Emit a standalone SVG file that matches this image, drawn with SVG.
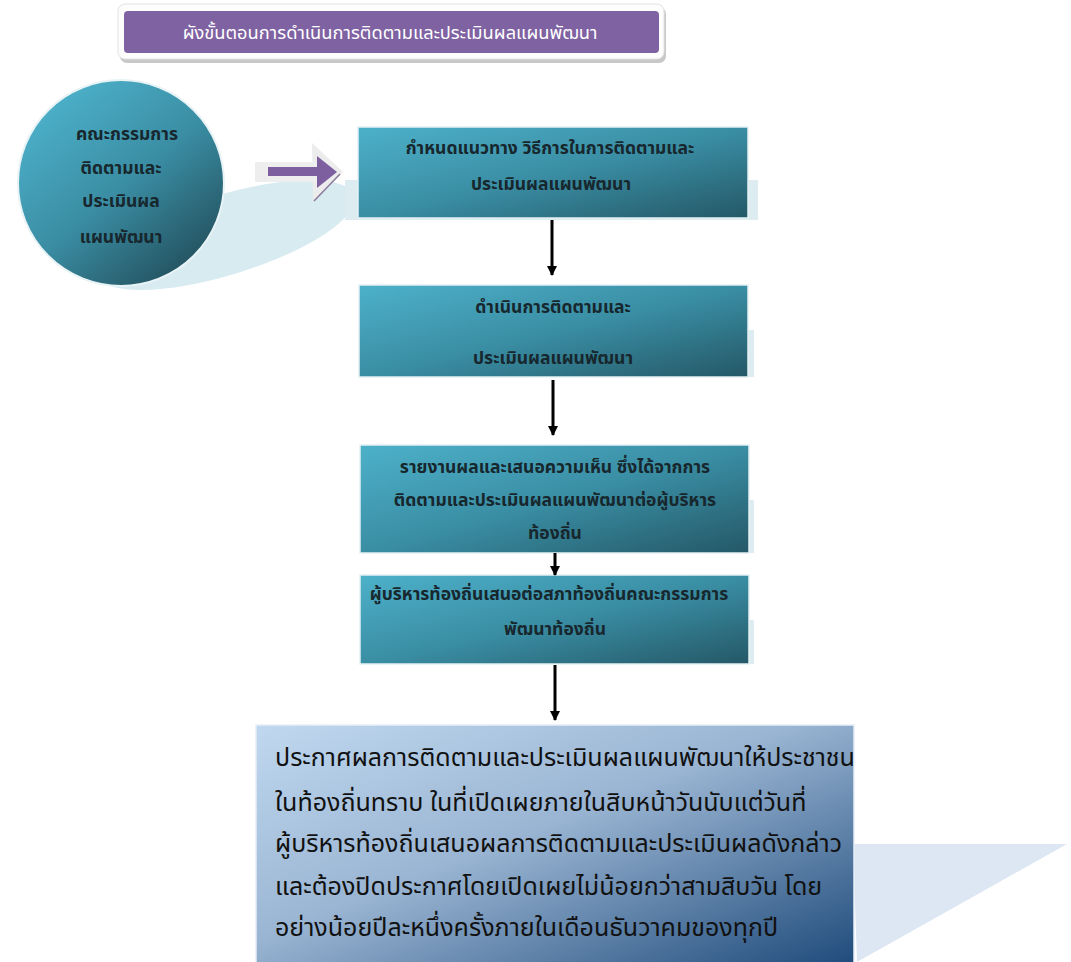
<svg xmlns="http://www.w3.org/2000/svg" width="1071" height="962" viewBox="0 0 1071 962">
<defs>
<linearGradient id="teal" x1="0" y1="0" x2="1" y2="1">
<stop offset="0" stop-color="#4db1ca"/>
<stop offset="0.5" stop-color="#3a8ea4"/>
<stop offset="1" stop-color="#245867"/>
</linearGradient>
<linearGradient id="tealc" x1="0.15" y1="0.1" x2="0.85" y2="0.95">
<stop offset="0" stop-color="#4cb0c9"/>
<stop offset="0.5" stop-color="#3a8da3"/>
<stop offset="1" stop-color="#224e5b"/>
</linearGradient>
<linearGradient id="blue" x1="0" y1="0" x2="1" y2="1">
<stop offset="0" stop-color="#c0d8ef"/>
<stop offset="0.45" stop-color="#9ab5d3"/>
<stop offset="1" stop-color="#1f4b7b"/>
</linearGradient>
<marker id="ah" viewBox="0 0 10 10" refX="9" refY="5" markerWidth="10" markerHeight="12" markerUnits="userSpaceOnUse" orient="auto">
<path d="M0,0 L10,5 L0,10 z" fill="#000"/>
</marker>
<style>
.box{fill:url(#teal);stroke:#e4f0f3;stroke-width:1.5}
.bt{font-family:"Noto Sans Thai","Tahoma","DejaVu Sans","Noto Sans",sans-serif;font-size:17.5px;font-weight:bold;fill:#17272d;text-anchor:middle}
.bb{font-family:"Noto Sans Thai","Tahoma","DejaVu Sans","Noto Sans",sans-serif;font-size:25px;fill:#111}
.sh{fill:#dcecf1}
.conn{stroke:#000;stroke-width:3;fill:none}
</style>
</defs>
<rect width="1071" height="962" fill="#fff"/>

<g id="title">
<rect x="120" y="7" width="546" height="56" rx="7" fill="#c8c8c8"/>
<rect x="118" y="4" width="546" height="55" rx="7" fill="#fdfdfd" stroke="#e2e2e2" stroke-width="1"/>
<rect x="124" y="11" width="535" height="42" rx="4" fill="#7f62a2"/>
<text x="390" y="39" font-family="Tahoma,&quot;Noto Sans Thai&quot;,&quot;DejaVu Sans&quot;,sans-serif" font-size="18.3" fill="#fff" text-anchor="middle">ผังขั้นตอนการดำเนินการติดตามและประเมินผลแผนพัฒนา</text>
</g>

<g id="decor">
<ellipse cx="225" cy="235" rx="135" ry="40" transform="rotate(-17 225 235)" fill="#d7ebf1"/>
<rect x="345" y="180" width="413" height="40" class="sh"/>
<rect x="748" y="330" width="6" height="47" class="sh"/>
<rect x="748" y="500" width="6" height="53" class="sh"/>
<rect x="748" y="620" width="6" height="44" class="sh"/>
<polygon points="853,844 1067,844 857,962" fill="#dce7f3"/>
</g>

<g id="committee">
<circle cx="121" cy="183" r="103" fill="url(#tealc)" stroke="#e8f3f6" stroke-width="2"/>
<text class="bt" x="127" y="140" font-size="18.5">คณะกรรมการ</text>
<text class="bt" x="121" y="174">ติดตามและ</text>
<text class="bt" x="121" y="207">ประเมินผล</text>
<text class="bt" x="121" y="243">แผนพัฒนา</text>
</g>

<g id="arrow-big">
<polygon points="312,143 343,172 313,202" fill="#ececec"/>
<rect x="255" y="162" width="62" height="20" fill="#eeeeee"/>
<rect x="268" y="167" width="52" height="9" fill="#7d5fa0"/>
<polygon points="317,156 337,172 317,188" fill="#7d5fa0"/>
<line x1="340" y1="174" x2="314" y2="201" stroke="#8a7a9a" stroke-width="1.5"/>
</g>

<g id="step1">
<rect class="box" x="358" y="127" width="390" height="91"/>
<text class="bt" x="550" y="154">กำหนดแนวทาง วิธีการในการติดตามและ</text>
<text class="bt" x="551" y="190">ประเมินผลแผนพัฒนา</text>
</g>

<g id="step2">
<rect class="box" x="359" y="285" width="389" height="92"/>
<text class="bt" x="553" y="313">ดำเนินการติดตามและ</text>
<text class="bt" x="553" y="364">ประเมินผลแผนพัฒนา</text>
</g>

<g id="step3">
<rect class="box" x="360" y="445" width="389" height="108"/>
<text class="bt" x="555" y="473">รายงานผลและเสนอความเห็น ซึ่งได้จากการ</text>
<text class="bt" x="555" y="506">ติดตามและประเมินผลแผนพัฒนาต่อผู้บริหาร</text>
<text class="bt" x="555" y="539">ท้องถิ่น</text>
</g>

<g id="step4">
<rect class="box" x="360" y="575" width="389" height="89"/>
<text class="bt" x="549" y="600">ผู้บริหารท้องถิ่นเสนอต่อสภาท้องถิ่นคณะกรรมการ</text>
<text class="bt" x="555" y="635">พัฒนาท้องถิ่น</text>
</g>

<g id="step5">
<rect x="256" y="725" width="598" height="240" fill="url(#blue)" stroke="#e6eef6" stroke-width="1.5"/>
<text class="bb" x="275" y="766">ประกาศผลการติดตามและประเมินผลแผนพัฒนาให้ประชาชน</text>
<text class="bb" x="275" y="811">ในท้องถิ่นทราบ ในที่เปิดเผยภายในสิบหน้าวันนับแต่วันที่</text>
<text class="bb" x="275" y="852">ผู้บริหารท้องถิ่นเสนอผลการติดตามและประเมินผลดังกล่าว</text>
<text class="bb" x="275" y="895">และต้องปิดประกาศโดยเปิดเผยไม่น้อยกว่าสามสิบวัน โดย</text>
<text class="bb" x="275" y="936">อย่างน้อยปีละหนึ่งครั้งภายในเดือนธันวาคมของทุกปี</text>
</g>

<g id="connectors">
<line class="conn" x1="552" y1="220" x2="552" y2="275" marker-end="url(#ah)"/>
<line class="conn" x1="553" y1="380" x2="553" y2="435" marker-end="url(#ah)"/>
<line class="conn" x1="555" y1="553" x2="555" y2="575" marker-end="url(#ah)"/>
<line class="conn" x1="555" y1="665" x2="555" y2="720" marker-end="url(#ah)"/>
</g>
</svg>
